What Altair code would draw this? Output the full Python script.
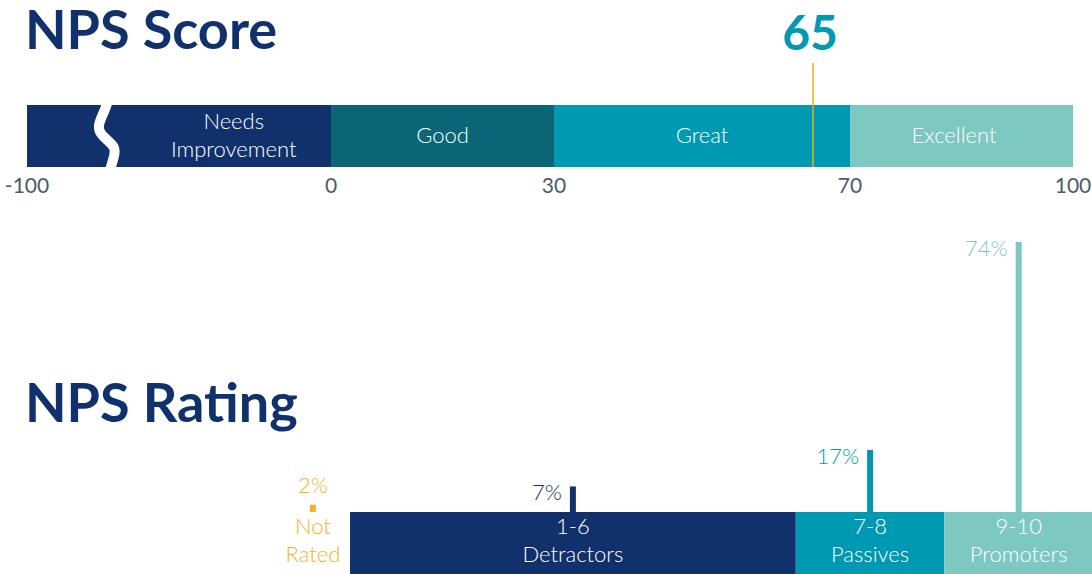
import altair as alt
import pandas as pd

# ---------------- NPS Score section ----------------
band_names = ["Needs\nImprovement", "Good", "Great", "Excellent"]
band_start = [-100, 0, 30, 70]
band_end = [0, 30, 70, 100]
band_label_pos = [-32, 15, 50, 84]
band_colors = ["#10316b", "#0a6677", "#0099b3", "#7dc8c1"]
score_ticks = [-100, 0, 30, 70, 100]
nps_score = 65

# axis-break squiggle (score units; t: 0 = bar top, 1 = bar bottom)
break_x = [-73.5, -74.5, -77.0, -75.5, -70.5, -71.5, -72.7]
break_t = [-0.05, 0.1, 0.35, 0.5, 0.68, 0.85, 1.05]

# ---------------- NPS Rating section ----------------
group_names = ["1-6\nDetractors", "7-8\nPassives", "9-10\nPromoters"]
group_start = [0.5, 6.5, 8.5]
group_end = [6.5, 8.5, 10.5]
group_pct = [7, 17, 74]
group_colors = ["#10316b", "#0099b3", "#7dc8c1"]
not_rated_label = "Not\nRated"
not_rated_pos = 0
not_rated_pct = 2

NAVY = "#10316b"
TEAL = "#0099b3"
ORANGE = "#f2b32b"
MARK_ORANGE = "#f3ae12"
GREY = "#4b5a6b"
FONT = "Lato"
LIGHT = 300

bands = pd.DataFrame({"name": band_names, "start": band_start, "end": band_end,
                      "lab": band_label_pos})
bands["lines"] = [n.count("\n") + 1 for n in band_names]
ticks = pd.DataFrame({"tick": score_ticks, "txt": [str(t) for t in score_ticks]})
score_df = pd.DataFrame({"score": [nps_score], "txt": [str(nps_score)]})
brk = pd.DataFrame({"x": break_x, "t": break_t, "i": list(range(len(break_x)))})

groups = pd.DataFrame({"name": group_names, "start": group_start, "end": group_end,
                       "pct": group_pct, "base": [0] * len(group_pct)})
groups["mid"] = (groups["start"] + groups["end"]) / 2
groups["ptxt"] = [f"{p}%" for p in group_pct]
nr = pd.DataFrame({"pos": [not_rated_pos], "pct": [not_rated_pct], "base": [0],
                   "ptxt": [f"{not_rated_pct}%"], "name": [not_rated_label]})
titles = pd.DataFrame({"t": ["NPS Score"]})
titles2 = pd.DataFrame({"t": ["NPS Rating"]})

score_scale = alt.Scale(domain=[-100, 0, 30, 70, 100], range=[27, 331, 554, 850, 1073],
                        nice=False, zero=False)
brk_y = alt.Scale(domain=[0, 1], range=[105, 167], nice=False, zero=False)
rating_scale = alt.Scale(domain=[0.5, 10.5], range=[350, 1093], nice=False, zero=False)
pct_scale = alt.Scale(domain=[0, 100], range=[512, 147], nice=False, zero=False)
band_color = alt.Scale(domain=band_names, range=band_colors)
group_color = alt.Scale(domain=group_names, range=group_colors)

# --- top layers ---
band_rects = alt.Chart(bands).mark_rect().encode(
    x=alt.X("start:Q", scale=score_scale, axis=None),
    x2="end:Q",
    y=alt.value(105), y2=alt.value(167),
    color=alt.Color("name:N", scale=band_color, legend=None),
)
break_line = alt.Chart(brk).mark_line(color="white", strokeWidth=10, interpolate="basis").encode(
    x=alt.X("x:Q", scale=score_scale, axis=None),
    y=alt.Y("t:Q", scale=brk_y, axis=None),
    order="i:Q",
)
band_text_1 = alt.Chart(bands[bands["lines"] == 1]).mark_text(
    color="white", fontSize=22, font=FONT, fontWeight=LIGHT,
    align="center", baseline="middle").encode(
    x=alt.X("lab:Q", scale=score_scale, axis=None),
    y=alt.value(136),
    text="name:N",
)
band_text_2 = alt.Chart(bands[bands["lines"] == 2]).mark_text(
    color="white", fontSize=22, font=FONT, fontWeight=LIGHT, lineBreak="\n", lineHeight=28,
    align="center", baseline="middle").encode(
    x=alt.X("lab:Q", scale=score_scale, axis=None),
    y=alt.value(122),
    text="name:N",
)
tick_text = alt.Chart(ticks).mark_text(
    color=GREY, fontSize=21, font=FONT, align="center",
    baseline="middle").encode(
    x=alt.X("tick:Q", scale=score_scale, axis=None),
    y=alt.value(187),
    text="txt:N",
)
marker = alt.Chart(score_df).mark_rule(color=MARK_ORANGE, strokeWidth=1.5).encode(
    x=alt.X("score:Q", scale=score_scale, axis=None),
    y=alt.value(63), y2=alt.value(167),
)
marker_text = alt.Chart(score_df).mark_text(
    color=TEAL, fontSize=48, font=FONT, fontWeight="bold", align="center",
    baseline="alphabetic", dx=-3).encode(
    x=alt.X("score:Q", scale=score_scale, axis=None),
    y=alt.value(50),
    text="txt:N",
)
title1 = alt.Chart(titles).mark_text(
    color=NAVY, fontSize=54, font=FONT, fontWeight="bold", align="left",
    baseline="alphabetic").encode(x=alt.value(25), y=alt.value(49), text="t:N")
title2 = alt.Chart(titles2).mark_text(
    color=NAVY, fontSize=54, font=FONT, fontWeight="bold", align="left",
    baseline="alphabetic").encode(x=alt.value(25), y=alt.value(422), text="t:N")

# --- bottom layers ---
group_rects = alt.Chart(groups).mark_rect().encode(
    x=alt.X("start:Q", scale=rating_scale, axis=None),
    x2="end:Q",
    y=alt.value(512), y2=alt.value(574),
    color=alt.Color("name:N", scale=group_color, legend=None),
)
group_text = alt.Chart(groups).mark_text(
    color="white", fontSize=22, font=FONT, fontWeight=LIGHT, lineBreak="\n", lineHeight=28,
    align="center", baseline="middle").encode(
    x=alt.X("mid:Q", scale=rating_scale, axis=None),
    y=alt.value(527),
    text="name:N",
)
spikes = alt.Chart(groups).mark_rule(strokeWidth=6, strokeCap="butt").encode(
    x=alt.X("mid:Q", scale=rating_scale, axis=None),
    y=alt.Y("pct:Q", scale=pct_scale, axis=None),
    y2="base:Q",
    color=alt.Color("name:N", scale=group_color, legend=None),
)
spike_text = alt.Chart(groups).mark_text(
    fontSize=22, font=FONT, fontWeight=LIGHT, align="right", baseline="top",
    dx=-11, dy=-3).encode(
    x=alt.X("mid:Q", scale=rating_scale, axis=None),
    y=alt.Y("pct:Q", scale=pct_scale, axis=None),
    text="ptxt:N",
    color=alt.Color("name:N", scale=group_color, legend=None),
)
nr_spike = alt.Chart(nr).mark_rule(strokeWidth=6, strokeCap="butt", color=ORANGE).encode(
    x=alt.X("pos:Q", scale=rating_scale, axis=None),
    y=alt.Y("pct:Q", scale=pct_scale, axis=None),
    y2="base:Q",
)
nr_pct = alt.Chart(nr).mark_text(
    fontSize=22, font=FONT, fontWeight=LIGHT, align="center", baseline="bottom",
    dy=-7, color=ORANGE).encode(
    x=alt.X("pos:Q", scale=rating_scale, axis=None),
    y=alt.Y("pct:Q", scale=pct_scale, axis=None),
    text="ptxt:N",
)
nr_label = alt.Chart(nr).mark_text(
    fontSize=22, font=FONT, fontWeight=LIGHT, lineBreak="\n", lineHeight=28,
    align="center", baseline="middle", color=ORANGE).encode(
    x=alt.X("pos:Q", scale=rating_scale, axis=None),
    y=alt.value(527),
    text="name:N",
)

chart = alt.layer(
    band_rects, break_line, band_text_1, band_text_2, tick_text, marker, marker_text,
    title1, title2,
    group_rects, group_text, spikes, spike_text, nr_spike, nr_pct, nr_label,
).resolve_scale(
    x="independent", y="independent", color="independent"
).properties(
    width=1092, height=574, autosize=alt.AutoSizeParams(type="none"), padding=0,
    background="white",
).configure_view(stroke=None)

chart.save("out.html", embed_options={"renderer": "svg", "actions": False})
